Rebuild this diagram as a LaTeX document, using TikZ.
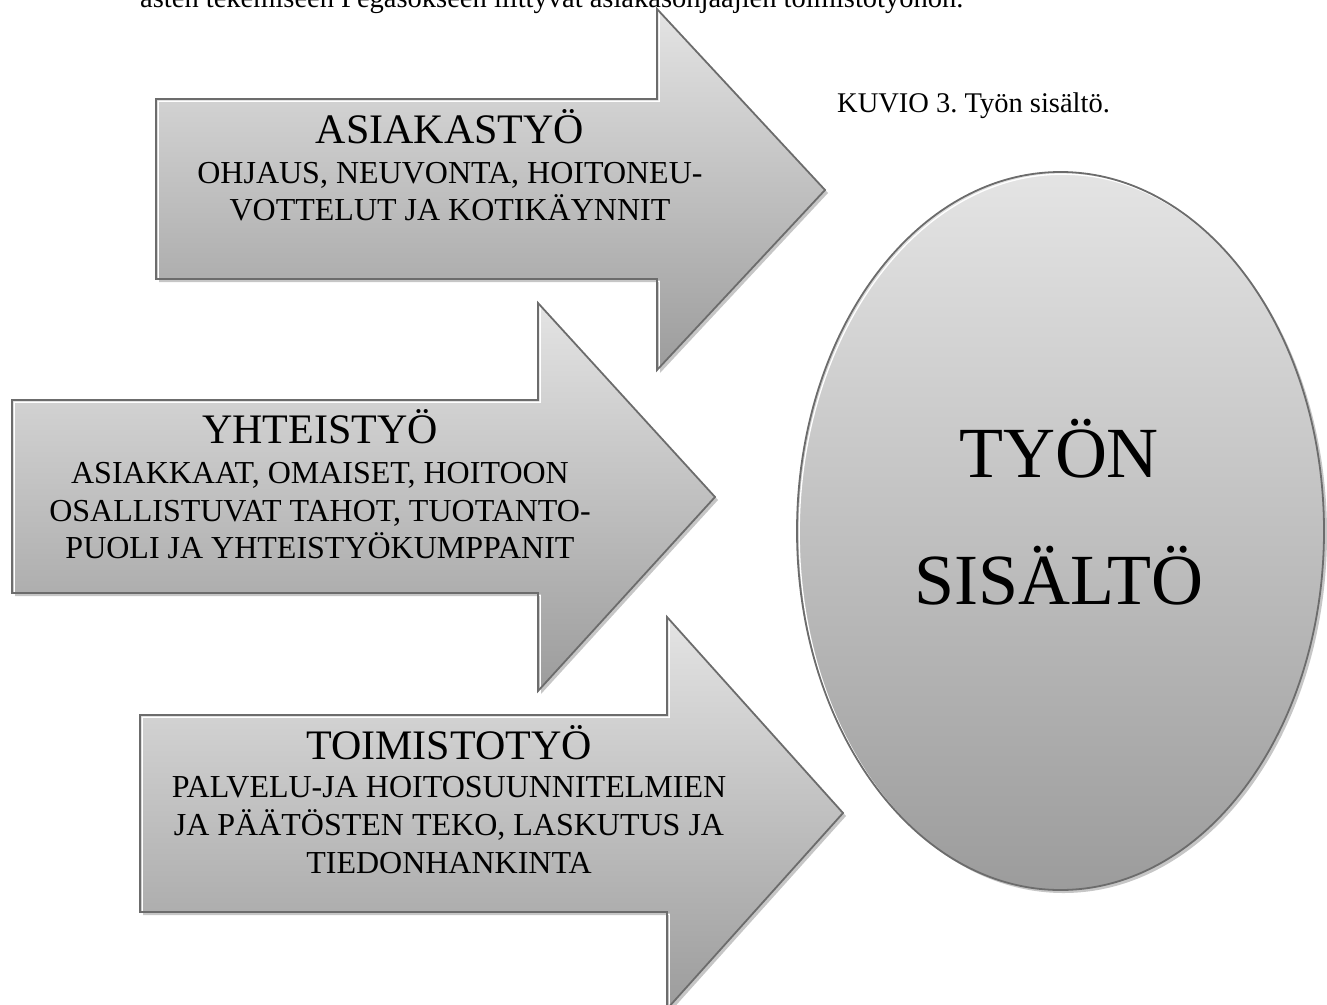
\documentclass[tikz,border=0pt]{standalone}
\usepackage{fontspec}
\setmainfont{Liberation Serif}
\frenchspacing

\definecolor{shTop}{HTML}{E4E4E4}
\definecolor{shBot}{HTML}{9C9C9C}
\definecolor{edgeGray}{HTML}{6C6C6C}
\definecolor{shadowGray}{HTML}{C6C6C6}

\tikzset{
  blockfill/.style={top color=shTop, bottom color=shBot},
  blockedge/.style={draw=edgeGray, line width=1.8pt, line join=miter},
  bevel/.style={draw=white, line width=1.3pt},
  titletext/.style={font=\fontsize{42}{48}\selectfont, anchor=base, inner sep=0pt},
  subtext/.style={font=\fontsize{32}{37}\selectfont, anchor=base, inner sep=0pt},
  bigtext/.style={font=\fontsize{72}{80}\selectfont, anchor=base, inner sep=0pt},
  bodytext/.style={font=\fontsize{28.5}{33}\selectfont, anchor=base west, inner sep=0pt},
}

% shaded block with drop shadow, inner bevel line and grey outline
\newcommand\shadedblock[1]{%
  \fill[shadowGray, shift={(3,3)}] #1;
  \shade[blockfill] #1;
  \begin{scope}
    \clip #1;
    \draw[bevel, shift={(2.2,2.2)}] #1;
  \end{scope}
  \draw[blockedge] #1;
}

\begin{document}
\begin{tikzpicture}[x=1pt, y=-1pt]
\useasboundingbox (0,0) rectangle (1327,1004);
\clip (0,0) rectangle (1327,1004);

% running text line above the figure
\node[bodytext] (bodyline) at (140,7)
  {ästen tekemiseen Pegasokseen liittyvät asiakasohjaajien toimistotyöhön.};

% three block arrows
\shadedblock{(156,99) -- (657,99) -- (657,9) -- (825,190) -- (657,370) -- (657,279) -- (156,279) -- cycle}
\shadedblock{(12,400) -- (538,400) -- (538,303) -- (715,497) -- (538,691) -- (538,593) -- (12,593) -- cycle}
\shadedblock{(140,715) -- (667,715) -- (667,617) -- (843,813) -- (667,1009) -- (667,912) -- (140,912) -- cycle}

% target ellipse
\shadedblock{(1060.5,531) ellipse [x radius=263.5, y radius=359]}

% arrow texts
\node[titletext] (asiakastyo) at (450,143) {ASIAKASTYÖ};
\node[subtext] (asiakasA) at (450,183) {OHJAUS, NEUVONTA, HOITONEU-};
\node[subtext] (asiakasB) at (450,220) {VOTTELUT JA KOTIKÄYNNIT};

\node[titletext] (yhteistyo) at (320,443) {YHTEISTYÖ};
\node[subtext] (yhteisA) at (320,483) {ASIAKKAAT, OMAISET, HOITOON};
\node[subtext] (yhteisB) at (320,521) {OSALLISTUVAT TAHOT, TUOTANTO-};
\node[subtext] (yhteisC) at (320,558) {PUOLI JA YHTEISTYÖKUMPPANIT};

\node[titletext] (toimistotyo) at (449,759) {TOIMISTOTYÖ};
\node[subtext] (toimistoA) at (449,797) {PALVELU-JA HOITOSUUNNITELMIEN};
\node[subtext] (toimistoB) at (449,835) {JA PÄÄTÖSTEN TEKO, LASKUTUS JA};
\node[subtext] (toimistoC) at (449,873) {TIEDONHANKINTA};

% ellipse text
\node[bigtext] (tyon) at (1059,477) {TYÖN};
\node[bigtext] (sisalto) at (1059,604.5) {SISÄLTÖ};

% caption
\node[bodytext] (kuvio) at (837,112) {KUVIO 3. Työn sisältö.};
\end{tikzpicture}
\end{document}
